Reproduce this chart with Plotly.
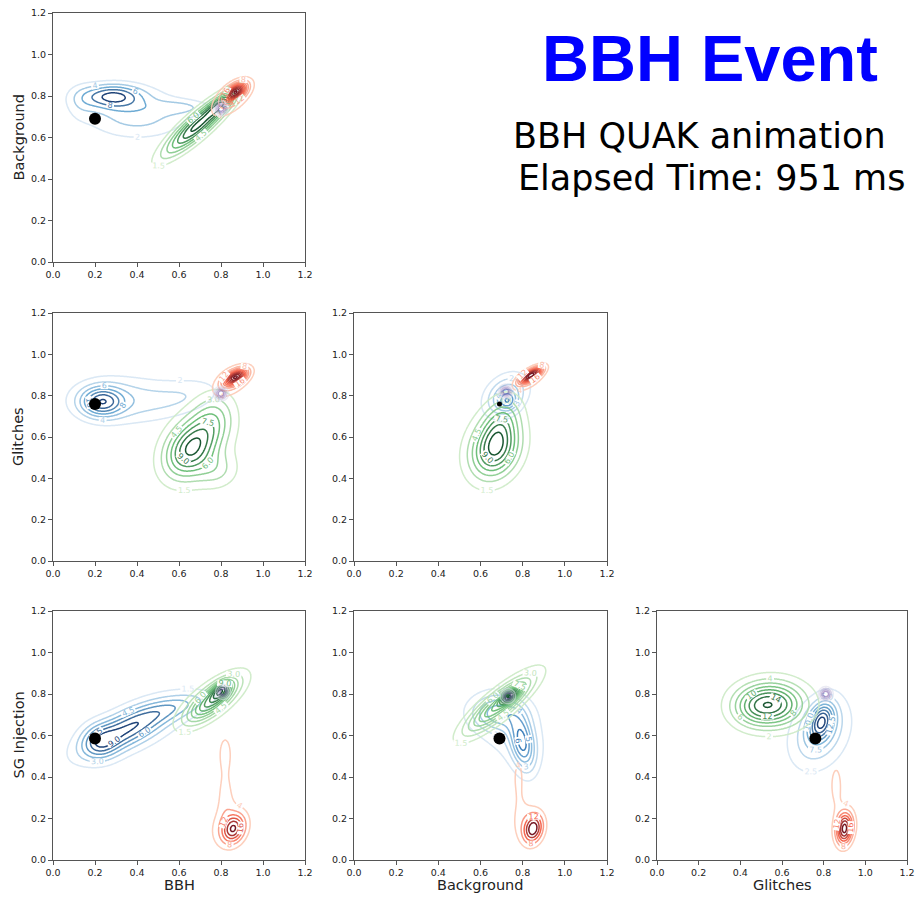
import numpy as np
import plotly.graph_objects as go

# ---------------- data ----------------
VARIABLES = ["BBH", "Background", "Glitches", "SG Injection"]
EVENT_SCORE = [0.20, 0.69, 0.76, 0.585]          # black dot: score of the event on each axis
TICKS = [0.0, 0.2, 0.4, 0.6, 0.8, 1.0, 1.2]
TICK_LABELS = ["0.0", "0.2", "0.4", "0.6", "0.8", "1.0", "1.2"]
PANELS = [(0, 1), (0, 2), (1, 2), (0, 3), (1, 3), (2, 3)]  # (x variable, y variable)
TITLE = "BBH Event"
SUBTITLE_1 = "BBH QUAK animation"
SUBTITLE_2 = "Elapsed Time: 951 ms"

# density components per panel and class: (cx, cy, sx, sy, rho, peak)
P1_BLUE = [(0.28, 0.80, 0.10, 0.040, 0.0, 9), (0.40, 0.71, 0.17, 0.08, 0.0, 5),
           (0.62, 0.745, 0.10, 0.025, 0.0, 3), (0.13, 0.77, 0.05, 0.06, 0.0, 2)]
P1_GREEN = [(0.69, 0.66, 0.11, 0.10, 0.88, 11), (0.80, 0.76, 0.04, 0.035, 0.7, 5)]
P1_RED = [(0.87, 0.82, 0.033, 0.028, 0.5, 36), (0.85, 0.79, 0.07, 0.065, 0.6, 10)]
P1_PURPLE = [(0.80, 0.74, 0.02, 0.02, 0.0, 60)]

P2_BLUE = [(0.23, 0.77, 0.07, 0.05, 0.0, 10), (0.33, 0.78, 0.17, 0.08, 0.0, 5),
           (0.64, 0.80, 0.13, 0.065, 0.3, 3)]
P2_GREEN = [(0.65, 0.54, 0.08, 0.09, 0.3, 8.5), (0.76, 0.68, 0.07, 0.09, 0.2, 4),
            (0.78, 0.44, 0.07, 0.06, 0.0, 2.5), (0.69, 0.56, 0.14, 0.16, 0.2, 2)]
P2_RED = [(0.87, 0.89, 0.035, 0.025, 0.5, 36), (0.85, 0.87, 0.065, 0.055, 0.5, 10)]
P2_PURPLE = [(0.80, 0.81, 0.02, 0.02, 0.0, 60)]

P3_BLUE = [(0.72, 0.80, 0.07, 0.07, 0.3, 4), (0.73, 0.77, 0.03, 0.03, 0.0, 2.5)]
P3_GREEN = [(0.67, 0.54, 0.075, 0.09, 0.2, 8.5), (0.70, 0.68, 0.06, 0.08, 0.3, 4),
            (0.66, 0.56, 0.12, 0.16, 0.2, 2)]
P3_RED = [(0.84, 0.90, 0.035, 0.025, 0.7, 36), (0.83, 0.88, 0.055, 0.045, 0.6, 8)]
P3_PURPLE = [(0.72, 0.82, 0.02, 0.02, 0.0, 60)]

P4_BLUE = [(0.35, 0.63, 0.14, 0.085, 0.7, 7), (0.22, 0.57, 0.06, 0.06, 0.0, 4),
           (0.60, 0.74, 0.12, 0.05, 0.6, 3), (0.40, 0.64, 0.20, 0.12, 0.6, 2)]
P4_GREEN = [(0.76, 0.77, 0.08, 0.07, 0.75, 9), (0.80, 0.82, 0.03, 0.03, 0.5, 6),
            (0.75, 0.77, 0.13, 0.10, 0.7, 2.5)]
P4_RED = [(0.86, 0.15, 0.035, 0.045, 0.2, 18), (0.84, 0.16, 0.07, 0.08, 0.2, 7),
          (0.82, 0.33, 0.03, 0.10, 0.0, 5), (0.82, 0.52, 0.022, 0.06, 0.0, 6)]
P4_PURPLE = [(0.81, 0.81, 0.02, 0.02, 0.0, 60)]

P5_BLUE = [(0.80, 0.56, 0.04, 0.09, -0.3, 5), (0.68, 0.71, 0.09, 0.06, 0.0, 3.5),
           (0.75, 0.62, 0.12, 0.13, -0.3, 1.7)]
P5_GREEN = [(0.69, 0.75, 0.11, 0.095, 0.85, 11), (0.74, 0.79, 0.03, 0.025, 0.7, 10)]
P5_RED = [(0.85, 0.15, 0.03, 0.045, 0.2, 18), (0.83, 0.17, 0.06, 0.08, 0.0, 6),
          (0.78, 0.40, 0.03, 0.12, 0.0, 4.5)]
P5_PURPLE = [(0.73, 0.79, 0.02, 0.02, 0.0, 60)]

P6_BLUE = [(0.79, 0.67, 0.04, 0.06, 0.3, 13), (0.78, 0.62, 0.08, 0.10, 0.3, 6),
           (0.78, 0.61, 0.13, 0.16, 0.2, 3.2)]
P6_GREEN = [(0.55, 0.75, 0.10, 0.07, 0.0, 12), (0.45, 0.73, 0.07, 0.06, 0.0, 3),
            (0.55, 0.75, 0.16, 0.10, 0.0, 3)]
P6_RED = [(0.90, 0.15, 0.025, 0.05, 0.1, 22), (0.90, 0.16, 0.04, 0.07, 0.2, 8),
          (0.86, 0.36, 0.025, 0.09, 0.0, 5.5)]
P6_PURPLE = [(0.81, 0.80, 0.02, 0.02, 0.0, 60)]

BLUE = [P1_BLUE, P2_BLUE, P3_BLUE, P4_BLUE, P5_BLUE, P6_BLUE]
GREEN = [P1_GREEN, P2_GREEN, P3_GREEN, P4_GREEN, P5_GREEN, P6_GREEN]
RED = [P1_RED, P2_RED, P3_RED, P4_RED, P5_RED, P6_RED]
PURPLE = [P1_PURPLE, P2_PURPLE, P3_PURPLE, P4_PURPLE, P5_PURPLE, P6_PURPLE]

BLUE_STEP = [2, 2, 1.0, 1.5, 1.0, 2.5]
GREEN_STEP = [1.5, 1.5, 1.5, 1.5, 1.5, 2]
RED_STEP = [4, 4, 4, 4, 4, 4]
PURPLE_STEP = [12, 12, 12, 12, 12, 12]

# ---------------- layout geometry / style ----------------
W, H = 918, 899
COLS_PX = [(53, 305), (354, 607), (657, 907)]
ROWS_PX = [(13, 262), (313, 561), (611, 860)]
PANEL_POS = [(0, 0), (1, 0), (1, 1), (2, 0), (2, 1), (2, 2)]  # (row, col)
BLUE_LIGHT = [False, False, True, False, True, False]   # panels with lighter blue lines

SCALES = {
    "blue": [[0, "#d6e6f4"], [0.5, "#5fa3d0"], [1, "#08306b"]],
    "bluelight": [[0, "#d6e6f4"], [0.6, "#7fb6dc"], [1, "#2c74b5"]],
    "green": [[0, "#cdebc6"], [0.5, "#5fb96c"], [1, "#00441b"]],
    "red": [[0, "#fdcab5"], [0.5, "#f5553c"], [1, "#67000d"]],
    "purple": [[0, "#dcdcec"], [1, "#54278f"]],
}

grid = np.linspace(0, 1.2, 241)
GX, GY = np.meshgrid(grid, grid)


def density(comps):
    z = np.zeros_like(GX)
    for cx, cy, sx, sy, rho, peak in comps:
        dx = (GX - cx) / sx
        dy = (GY - cy) / sy
        q = (dx * dx - 2 * rho * dx * dy + dy * dy) / (1 - rho * rho)
        z += peak * np.exp(-0.5 * q)
    return z


fig = go.Figure()
layout = {}
for i, (pos, (vx, vy)) in enumerate(zip(PANEL_POS, PANELS)):
    r, c = pos
    k = "" if i == 0 else str(i + 1)
    xa, ya = "x" + k, "y" + k
    x0, x1 = COLS_PX[c]
    y0, y1 = ROWS_PX[r]
    axis_common = dict(
        range=[0, 1.2], tickvals=TICKS, ticktext=TICK_LABELS, showgrid=False, zeroline=False,
        showline=True, mirror=True, linecolor="#555555", linewidth=1, ticks="outside",
        ticklen=4, tickcolor="#555555", tickfont=dict(family="DejaVu Sans", size=9.5, color="#222"),
        automargin=False, fixedrange=True,
    )
    layout["xaxis" + k] = dict(axis_common, domain=[x0 / W, x1 / W], anchor=ya)
    layout["yaxis" + k] = dict(axis_common, domain=[1 - y1 / H, 1 - y0 / H], anchor=xa)

    for name, comps, step in (("blue", BLUE[i], BLUE_STEP[i]), ("green", GREEN[i], GREEN_STEP[i]),
                              ("red", RED[i], RED_STEP[i]), ("purple", PURPLE[i], PURPLE_STEP[i])):
        z = density(comps)
        zmax = float(z.max())
        scale = SCALES["bluelight"] if (name == "blue" and BLUE_LIGHT[i]) else SCALES[name]
        fmt = ".0f" if float(step).is_integer() else ".1f"
        fig.add_trace(go.Contour(
            x=grid, y=grid, z=z, xaxis=xa, yaxis=ya, showscale=False,
            colorscale=scale, zmin=0, zmax=zmax,
            contours=dict(coloring="lines", start=step, end=zmax, size=step,
                          showlabels=(name != "purple"), labelformat=fmt,
                          labelfont=dict(family="DejaVu Sans", size=8)),
            line=dict(width=1.5), opacity=0.9 if name != "purple" else 0.55,
            hoverinfo="skip",
        ))
    fig.add_trace(go.Scatter(
        x=[EVENT_SCORE[vx]], y=[EVENT_SCORE[vy]], xaxis=xa, yaxis=ya, mode="markers",
        marker=dict(color="black", size=12 if i != 2 else 5), hoverinfo="skip",
    ))

annotations = []
for i, (pos, (vx, vy)) in enumerate(zip(PANEL_POS, PANELS)):
    r, c = pos
    x0, x1 = COLS_PX[c]
    y0, y1 = ROWS_PX[r]
    if c == 0:
        annotations.append(dict(text=VARIABLES[vy], x=18 / W, y=1 - (y0 + y1) / 2 / H,
                                xref="paper", yref="paper", textangle=-90, showarrow=False,
                                font=dict(family="DejaVu Sans", size=14.5, color="#222"),
                                xanchor="center", yanchor="middle"))
    if r == 2:
        annotations.append(dict(text=VARIABLES[vx], x=(x0 + x1) / 2 / W, y=1 - 885 / H,
                                xref="paper", yref="paper", showarrow=False,
                                font=dict(family="DejaVu Sans", size=14.5, color="#222"),
                                xanchor="center", yanchor="middle"))

annotations.append(dict(text="<b>" + TITLE + "</b>", x=710 / W, y=1 - 59 / H, xref="paper", yref="paper",
                        showarrow=False, xanchor="center", yanchor="middle",
                        font=dict(family="Liberation Sans", size=65, color="#0000ff")))
annotations.append(dict(text=SUBTITLE_1, x=511 / W, y=1 - 136 / H, xref="paper", yref="paper",
                        showarrow=False, xanchor="left", yanchor="middle",
                        font=dict(family="DejaVu Sans", size=35, color="black")))
annotations.append(dict(text=SUBTITLE_2, x=516 / W, y=1 - 178 / H, xref="paper", yref="paper",
                        showarrow=False, xanchor="left", yanchor="middle",
                        font=dict(family="DejaVu Sans", size=35, color="black")))

fig.update_layout(
    width=W, height=H, margin=dict(l=0, r=0, t=0, b=0), showlegend=False,
    paper_bgcolor="white", plot_bgcolor="white", annotations=annotations, **layout,
)
fig.write_html("out.html", config={"displayModeBar": False})
